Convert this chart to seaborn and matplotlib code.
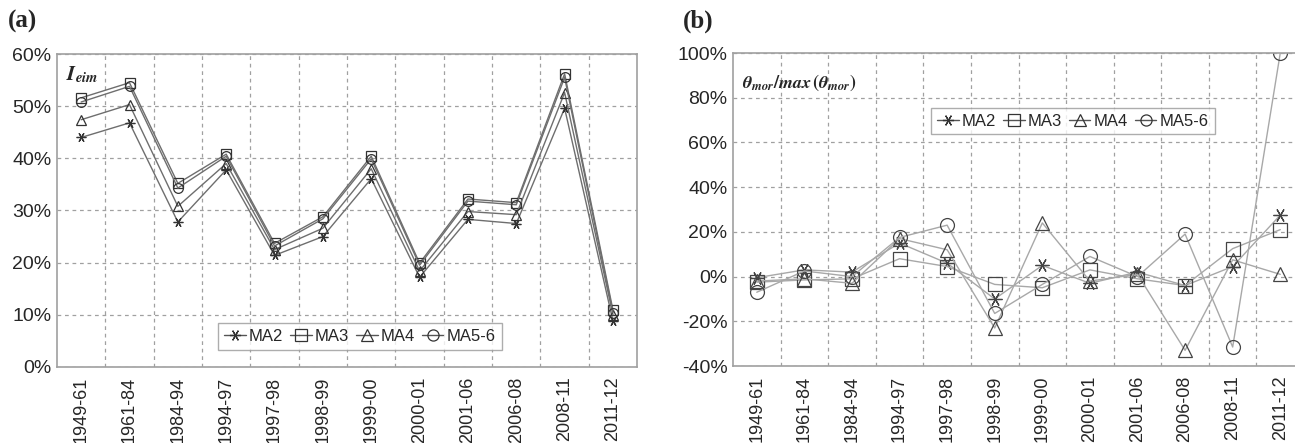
import numpy as np
import pandas as pd
import seaborn as sns
import matplotlib.pyplot as plt
from matplotlib.ticker import FixedLocator

periods = ['1949-61', '1961-84', '1984-94', '1994-97', '1997-98', '1998-99',
           '1999-00', '2000-01', '2001-06', '2006-08', '2008-11', '2011-12']
series = ['MA2', 'MA3', 'MA4', 'MA5-6']

# panel (a): I_eim in %
a_ma2 = [44, 46.8, 27.8, 37.8, 21.4, 25, 36.1, 17.2, 28.3, 27.5, 49.6, 8.8]
a_ma3 = [51.6, 54.5, 35.2, 40.8, 23.7, 28.8, 40.4, 19.9, 32.2, 31.5, 56.2, 10.9]
a_ma4 = [47.4, 50.3, 30.8, 39, 22.5, 26.6, 38, 18.4, 29.8, 29.2, 52.6, 10]
a_ma56 = [50.8, 53.8, 34.3, 40.4, 23.2, 28.4, 39.9, 19.5, 31.8, 31.1, 55.5, 10.4]

# panel (b): theta_mor / max(theta_mor) in %
b_ma2 = [-0.5, 3, 2, 15, 6, -10, 5, -3, 2, -4, 4.5, 27.5]
b_ma3 = [-2.5, -1.5, -1, 8, 4.5, -3.5, -5, 3, -1, -4, 12.5, 21]
b_ma4 = [-2, -1, -3, 17, 12, -23, 24, -2, 1, -33, 7.5, 1]
b_ma56 = [-7, 2.5, 0, 17.5, 23, -16.5, -3.5, 9, 0, 19, -31.5, 100]


def long_df(cols):
    rows = []
    for name, vals in zip(series, cols):
        for p, v in zip(periods, vals):
            rows.append({'period': p, 'series': name, 'value': v})
    return pd.DataFrame(rows)


sns.set_style('white')
plt.rcParams['font.family'] = ['Liberation Sans', 'DejaVu Sans']
plt.rcParams['mathtext.fontset'] = 'stix'

markers = {'MA2': (6, 2, 90), 'MA3': 's', 'MA4': '^', 'MA5-6': 'o'}

fig = plt.figure(figsize=(12.95, 4.43), dpi=100)
ax_a = fig.add_axes([0.044, 0.1716, 0.448, 0.7065])
ax_b = fig.add_axes([0.566, 0.1738, 0.441, 0.7065])

panels = [
    (ax_a, [a_ma2, a_ma3, a_ma4, a_ma56], (0, 60), np.arange(0, 61, 10),
     '#6e6e6e', '#333333', 7, (0.522, 0.055)),
    (ax_b, [b_ma2, b_ma3, b_ma4, b_ma56], (-40, 100), np.arange(-40, 101, 20),
     '#a8a8a8', '#444444', 10, (0.595, 0.74)),
]

for ax, cols, ylim, yt, lc, mc, ms, lanchor in panels:
    df = long_df(cols)
    for name in series:
        sub = df[df['series'] == name]
        sns.lineplot(data=sub, x='period', y='value', marker=markers[name],
                     sort=False, color=lc, linewidth=1.0, markersize=ms,
                     markerfacecolor='none', markeredgecolor=mc,
                     markeredgewidth=0.9, ax=ax, label=name)
    ax.set_xlim(-0.5, 11.5)
    ax.set_ylim(*ylim)
    ax.set_yticks(yt)
    ax.set_yticklabels(['%d%%' % v for v in yt])
    ax.set_xticks(range(len(periods)))
    ax.set_xticklabels(periods, rotation=90)
    ax.xaxis.set_minor_locator(FixedLocator(np.arange(0.5, 11.5, 1)))
    ax.tick_params(axis='x', which='major', length=0, labelsize=13, pad=7)
    ax.tick_params(axis='x', which='minor', length=4, direction='inout',
                   color='#999999')
    ax.tick_params(axis='y', length=4, direction='inout', color='#999999',
                   labelsize=14, pad=2)
    ax.set_xlabel('')
    ax.set_ylabel('')
    ax.grid(False)
    ax.grid(True, axis='y', which='major', linestyle=(0, (3, 3)),
            color='#a0a0a0', linewidth=0.9)
    ax.grid(True, axis='x', which='minor', linestyle=(0, (3, 3)),
            color='#a0a0a0', linewidth=0.9)
    for s in ax.spines.values():
        s.set_color('#a0a0a0')
        s.set_linewidth(1.2)
    leg = ax.legend(ax.lines[:4], series, ncol=4, loc='lower center',
                    bbox_to_anchor=lanchor, fontsize=12, frameon=True,
                    fancybox=False, edgecolor='#999999', handlelength=1.3,
                    handletextpad=0.2, columnspacing=0.4, borderpad=0.35,
                    borderaxespad=0)
    leg.get_frame().set_linewidth(1.0)
    for h in leg.legend_handles:
        h.set_markersize(8)
        h.set_markeredgecolor('#333333')
        h.set_color('#555555')

ax_b.spines['right'].set_visible(False)

ax_a.text(0.015, 0.935, r'$\boldsymbol{I}_{\boldsymbol{eim}}$', transform=ax_a.transAxes,
          fontsize=15, ha='left', va='center')
ax_b.text(0.015, 0.905, r'$\boldsymbol{\theta}_{\boldsymbol{mor}}\boldsymbol{/max\,(\theta}_{\boldsymbol{mor}}\boldsymbol{)}$',
          transform=ax_b.transAxes, fontsize=13, ha='left', va='center')

fig.text(0.006, 0.925, '(a)', fontsize=18, fontweight='bold',
         family=['Liberation Serif', 'DejaVu Serif'], ha='left', va='bottom')
fig.text(0.527, 0.925, '(b)', fontsize=18, fontweight='bold',
         family=['Liberation Serif', 'DejaVu Serif'], ha='left', va='bottom')

fig.savefig('out.png', dpi=100)
plt.close(fig)
